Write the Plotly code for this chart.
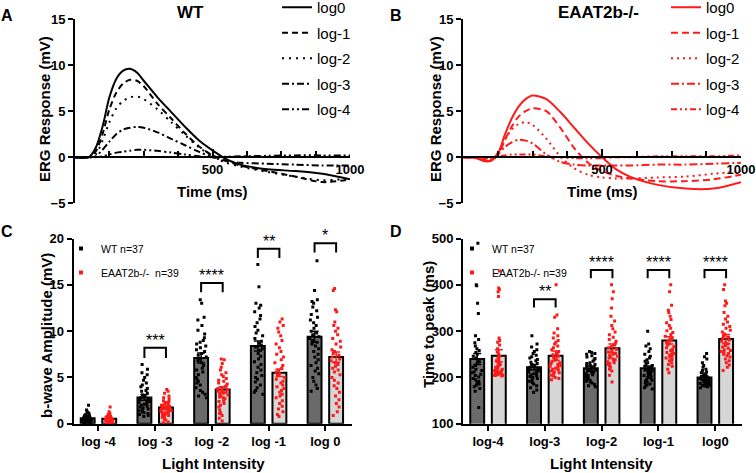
import plotly.graph_objects as go

W, H = 756, 473
FONT = "Liberation Sans, Arial, sans-serif"

# ---------------- Data ----------------
t_ms = [0, 50, 75, 100, 125, 150, 175, 200, 225, 250, 300, 350, 400, 450, 500, 550, 600, 700, 800, 900, 1000]

wt_log0 = [0, 0, 1.0, 3.3, 6.5, 8.5, 9.4, 9.6, 9.2, 8.3, 6.5, 4.9, 3.3, 1.85, 0.75, -0.2, -0.8, -1.3, -1.5, -1.8, -2.4]
wt_log1 = [0, 0, 0.6, 2.5, 5.2, 7.0, 8.0, 8.4, 8.3, 7.7, 5.8, 4.2, 2.6, 1.2, 0.2, -0.4, -0.9, -1.5, -2.1, -2.7, -2.4]
wt_log2 = [0, 0, 0.3, 1.8, 3.8, 5.3, 6.1, 6.5, 6.6, 6.3, 5.2, 3.8, 2.4, 1.1, 0.1, -0.6, -1.0, -1.6, -2.1, -2.5, -2.3]
wt_log3 = [0, 0, 0.1, 0.8, 1.7, 2.5, 3.0, 3.2, 3.3, 3.2, 2.7, 2.0, 1.3, 0.6, 0.0, -0.4, -0.6, -0.7, -0.8, -0.9, -0.9]
wt_log4 = [0, 0, 0, 0.1, 0.3, 0.5, 0.6, 0.7, 0.8, 0.8, 0.7, 0.5, 0.3, 0.1, 0.0, 0.05, 0.1, 0.15, 0.2, 0.2, 0.2]

ko_log0 = [0, -0.1, -0.4, -0.4, 0.3, 2.4, 4.2, 5.5, 6.3, 6.7, 6.3, 4.9, 3.2, 1.5, 0.0, -1.3, -2.1, -3.0, -3.4, -3.4, -2.7]
ko_log1 = [0, -0.1, -0.4, -0.4, 0.2, 1.8, 3.3, 4.4, 5.0, 5.3, 5.0, 3.2, 1.0, -0.6, -1.5, -2.0, -2.3, -2.6, -2.6, -2.4, -1.9]
ko_log2 = [0, -0.1, -0.4, -0.3, 0.5, 1.9, 3.0, 3.6, 3.8, 3.5, 2.0, 0.1, -1.2, -1.9, -2.2, -2.3, -2.3, -2.2, -2.1, -1.8, -1.5]
ko_log3 = [0, -0.1, -0.3, -0.2, 0.3, 1.1, 1.6, 1.9, 1.8, 1.5, 0.3, -0.5, -0.8, -0.9, -0.9, -0.9, -0.9, -0.8, -0.8, -0.7, -0.6]
ko_log4 = [0, 0, -0.1, -0.1, 0.1, 0.2, 0.3, 0.3, 0.3, 0.3, 0.1, 0.0, -0.1, -0.1, -0.1, 0.0, 0.0, 0.1, 0.1, 0.1, 0.2]

trace_names = ["log0", "log-1", "log-2", "log-3", "log-4"]

cats_c = ["log -4", "log -3", "log -2", "log -1", "log 0"]
cats_d = ["log-4", "log-3", "log-2", "log-1", "log0"]

# b-wave amplitude (mV)
c_wt_mean = [0.6, 2.85, 7.1, 8.4, 9.4]
c_wt_sem = [0.08, 0.3, 0.55, 0.55, 0.6]
c_ko_mean = [0.55, 1.75, 3.7, 5.5, 7.2]
c_ko_sem = [0.06, 0.17, 0.3, 0.4, 0.55]

c_wt_m4 = [2.0, 1.5, 1.3, 1.2, 1.1, 1.0, 0.9, 0.9, 0.8, 0.8, 0.8, 0.7, 0.7, 0.7, 0.6, 0.6, 0.6, 0.6, 0.5, 0.5, 0.5, 0.5, 0.4, 0.4, 0.4, 0.4, 0.3, 0.3, 0.3, 0.3, 0.2, 0.2, 0.2, 0.1, 0.1, 0.1, 0.05]
c_wt_m3 = [6.4, 5.9, 5.5, 5.3, 5.0, 4.7, 4.4, 4.2, 4.0, 3.8, 3.6, 3.5, 3.3, 3.1, 3.0, 2.9, 2.8, 2.7, 2.6, 2.5, 2.4, 2.3, 2.2, 2.1, 2.0, 1.9, 1.8, 1.7, 1.6, 1.5, 1.4, 1.3, 1.2, 1.1, 1.0, 0.9, 0.8]
c_wt_m2 = [13.4, 13.0, 11.5, 11.2, 10.6, 10.1, 9.7, 9.3, 9.0, 8.8, 8.6, 8.4, 8.2, 8.0, 7.8, 7.6, 7.4, 7.2, 7.0, 6.8, 6.6, 6.3, 6.0, 5.8, 5.6, 5.3, 5.0, 4.8, 4.6, 4.4, 4.2, 3.9, 3.6, 3.4, 3.2, 3.0, 2.8]
c_wt_m1 = [17.2, 14.8, 13.0, 12.8, 12.5, 12.1, 11.7, 11.3, 10.9, 10.5, 10.1, 9.8, 9.5, 9.2, 8.9, 8.7, 8.5, 8.3, 8.1, 7.9, 7.6, 7.3, 7.0, 6.7, 6.4, 6.1, 5.8, 5.5, 5.2, 5.0, 4.8, 4.5, 4.2, 3.9, 3.6, 3.4, 3.2]
c_wt_0 = [17.6, 14.4, 13.4, 13.2, 13.0, 12.6, 12.2, 11.8, 11.5, 11.2, 10.9, 10.6, 10.3, 10.0, 9.8, 9.6, 9.4, 9.2, 9.0, 8.8, 8.6, 8.4, 8.1, 7.8, 7.5, 7.2, 6.9, 6.6, 6.3, 6.0, 5.7, 5.4, 5.0, 4.6, 4.2, 3.8, 3.5]

c_ko_m4 = [1.8, 1.3, 1.1, 1.0, 0.9, 0.9, 0.8, 0.8, 0.7, 0.7, 0.7, 0.6, 0.6, 0.6, 0.6, 0.5, 0.5, 0.5, 0.5, 0.5, 0.5, 0.4, 0.4, 0.4, 0.4, 0.4, 0.3, 0.3, 0.3, 0.3, 0.3, 0.2, 0.2, 0.2, 0.2, 0.1, 0.1, 0.1, 0.05]
c_ko_m3 = [3.7, 3.5, 3.3, 3.0, 2.8, 2.7, 2.5, 2.4, 2.3, 2.2, 2.1, 2.0, 2.0, 1.9, 1.9, 1.8, 1.8, 1.7, 1.7, 1.6, 1.6, 1.5, 1.5, 1.4, 1.4, 1.3, 1.3, 1.2, 1.2, 1.1, 1.0, 1.0, 0.9, 0.8, 0.7, 0.5, 0.4, 0.2, 0.1]
c_ko_m2 = [7.0, 6.9, 6.5, 6.1, 5.8, 5.5, 5.3, 5.1, 4.9, 4.7, 4.6, 4.4, 4.3, 4.1, 4.0, 3.9, 3.8, 3.7, 3.6, 3.5, 3.4, 3.3, 3.2, 3.1, 3.0, 2.9, 2.8, 2.7, 2.5, 2.4, 2.2, 2.0, 1.8, 1.5, 1.2, 1.1, 0.9, 0.6, 0.3]
c_ko_m1 = [11.3, 11.0, 10.6, 10.3, 9.9, 9.5, 9.0, 8.6, 8.2, 7.8, 7.5, 7.2, 6.9, 6.6, 6.3, 6.0, 5.8, 5.6, 5.4, 5.2, 5.0, 4.8, 4.6, 4.4, 4.2, 4.0, 3.8, 3.6, 3.4, 3.2, 3.0, 2.8, 2.5, 2.2, 1.9, 1.6, 1.3, 1.0, 0.8]
c_ko_0 = [14.6, 14.4, 12.3, 12.1, 11.0, 10.6, 10.3, 10.0, 9.6, 9.2, 8.9, 8.6, 8.3, 8.0, 7.8, 7.6, 7.4, 7.2, 7.0, 6.8, 6.6, 6.4, 6.2, 6.0, 5.8, 5.6, 5.3, 5.0, 4.7, 4.4, 4.1, 3.8, 3.4, 3.0, 2.6, 2.2, 1.8, 1.3, 0.9]

# time to peak (ms)
d_wt_mean = [240, 222, 220, 220, 200]
d_wt_sem = [12, 6, 5, 5, 3]
d_ko_mean = [247, 247, 263, 280, 283]
d_ko_sem = [13, 10, 9, 8, 10]

d_wt_m4 = [490, 400, 398, 360, 338, 290, 282, 275, 268, 262, 258, 254, 250, 246, 242, 238, 234, 230, 226, 222, 218, 215, 212, 210, 207, 204, 201, 198, 195, 192, 189, 186, 183, 180, 176, 170, 135]
d_wt_m3 = [290, 272, 266, 260, 256, 252, 248, 245, 242, 239, 236, 233, 230, 228, 226, 224, 222, 220, 218, 216, 214, 212, 210, 208, 206, 204, 202, 200, 198, 195, 192, 189, 186, 182, 178, 173, 168]
d_wt_m2 = [256, 254, 252, 250, 247, 244, 241, 238, 235, 232, 230, 228, 226, 224, 222, 220, 218, 216, 215, 214, 213, 212, 210, 208, 206, 204, 202, 200, 198, 196, 194, 192, 190, 188, 185, 182, 180]
d_wt_m1 = [300, 272, 268, 262, 256, 250, 246, 242, 238, 235, 232, 229, 226, 224, 222, 220, 218, 216, 214, 212, 210, 208, 206, 204, 202, 200, 198, 196, 194, 192, 190, 188, 186, 184, 181, 178, 175]
d_wt_0 = [252, 245, 240, 232, 226, 222, 218, 215, 212, 210, 208, 206, 204, 202, 201, 200, 199, 198, 197, 196, 195, 194, 193, 192, 191, 190, 189, 188, 187, 186, 185, 184, 183, 182, 181, 180, 178]

d_ko_m4 = [430, 393, 390, 385, 375, 285, 280, 276, 270, 262, 255, 250, 246, 242, 239, 236, 233, 230, 228, 226, 224, 222, 220, 218, 217, 215, 214, 213, 212, 211, 210, 209, 208, 207, 206, 205, 205, 204, 203]
d_ko_m3 = [400, 335, 330, 305, 296, 290, 285, 280, 276, 272, 268, 264, 260, 256, 252, 249, 246, 243, 240, 237, 234, 232, 230, 228, 226, 224, 222, 220, 218, 216, 214, 212, 210, 208, 205, 203, 200, 198, 195]
d_ko_m2 = [400, 385, 370, 350, 332, 322, 312, 305, 298, 292, 287, 282, 278, 274, 270, 267, 264, 261, 258, 255, 252, 250, 248, 246, 244, 242, 240, 238, 236, 234, 232, 230, 228, 225, 222, 218, 214, 205, 190]
d_ko_m1 = [400, 385, 356, 345, 340, 332, 325, 318, 312, 306, 301, 297, 293, 289, 285, 282, 279, 276, 273, 270, 267, 264, 261, 258, 256, 254, 252, 250, 248, 246, 244, 242, 239, 236, 232, 228, 224, 218, 210]
d_ko_0 = [400, 390, 365, 360, 355, 340, 332, 326, 320, 315, 310, 306, 302, 298, 294, 290, 287, 284, 281, 278, 275, 272, 269, 266, 263, 260, 258, 256, 254, 252, 250, 247, 244, 240, 236, 232, 227, 222, 215]

# significance: (category index, leg bottom, bracket top, label)
sig_c = [(1, 7.1, 8.2, "***"), (2, 14.2, 15.2, "****"), (3, 17.9, 18.9, "**"), (4, 18.5, 19.5, "*")]
sig_d = [(1, 351, 369, "**"), (2, 414, 432, "****"), (3, 414, 432, "****"), (4, 414, 432, "****")]

legend_c = ["WT n=37", "EAAT2b-/-\u00a0\u00a0n=39"]
legend_d = ["WT n=37", "EAAT2b-/- n=39"]

# ---------------- Styles ----------------
RED = "#ff1a1a"
WT_BAR = "#6a6a6a"
KO_BAR = "#d6d6d6"
dashes = ["solid", "6px,4px", "2px,5px", "7px,3px,2px,3px", "7px,3px,2px,3px,2px,3px"]
dashes_ko = ["solid", "7px,4px", "2px,4px", "8px,3px,2px,3px", "6px,3px,2px,3px,2px,3px"]
GROUP_OFF = 0.19   # horizontal offset of each group from the category centre
PT_WIDTH = 0.22    # width of the jittered point strip


def px(x):
    return x / W


def py(y):
    return 1 - y / H


fig = go.Figure()

wt_sets = [wt_log0, wt_log1, wt_log2, wt_log3, wt_log4]
ko_sets = [ko_log0, ko_log1, ko_log2, ko_log3, ko_log4]
for i, (nm, ys) in enumerate(zip(trace_names, wt_sets)):
    fig.add_trace(go.Scatter(x=t_ms, y=ys, mode="lines", name=nm, line=dict(color="black", width=2, dash=dashes[i], shape="spline", smoothing=0.8),
                             xaxis="x", yaxis="y", legend="legend", legendgroup="a%d" % i))
for i, (nm, ys) in enumerate(zip(trace_names, ko_sets)):
    fig.add_trace(go.Scatter(x=t_ms, y=ys, mode="lines", name=nm, line=dict(color=RED, width=2, dash=dashes_ko[i], shape="spline", smoothing=0.8),
                             xaxis="x2", yaxis="y2", legend="legend2", legendgroup="b%d" % i))

idx = list(range(5))


def add_bar_panel(xa, ya, wt_mean, wt_sem, ko_mean, ko_sem, wt_pts, ko_pts, leg, leg_names):
    fig.add_trace(go.Bar(x=idx, y=wt_mean, marker=dict(color=WT_BAR, line=dict(color="black", width=2)),
                         error_y=dict(type="data", array=wt_sem, color="black", thickness=1.5, width=4),
                         xaxis=xa, yaxis=ya, showlegend=False))
    fig.add_trace(go.Bar(x=idx, y=ko_mean, marker=dict(color=KO_BAR, line=dict(color="black", width=2)),
                         error_y=dict(type="data", array=ko_sem, color=RED, thickness=1.5, width=4),
                         xaxis=xa, yaxis=ya, showlegend=False))
    for pts, col, off in ((wt_pts, "black", -GROUP_OFF), (ko_pts, RED, GROUP_OFF)):
        xs, ys = [], []
        for i, v in enumerate(pts):
            xs += [i + off] * len(v)
            ys += v
        fig.add_trace(go.Box(x=xs, y=ys, boxpoints="all", jitter=0.9, pointpos=0, width=PT_WIDTH,
                             marker=dict(color=col, size=3, symbol="square", line=dict(width=0)),
                             line=dict(color="rgba(0,0,0,0)", width=0), fillcolor="rgba(0,0,0,0)",
                             xaxis=xa, yaxis=ya, showlegend=False))
    for k, (nm, col) in enumerate(zip(leg_names, ["black", RED])):
        fig.add_trace(go.Scatter(x=[None], y=[None], mode="markers", name=nm,
                                 marker=dict(color=col, size=4, symbol="square"),
                                 xaxis=xa, yaxis=ya, legend=leg, legendgroup=leg + str(k)))


add_bar_panel("x3", "y3", c_wt_mean, c_wt_sem, c_ko_mean, c_ko_sem,
              [c_wt_m4, c_wt_m3, c_wt_m2, c_wt_m1, c_wt_0], [c_ko_m4, c_ko_m3, c_ko_m2, c_ko_m1, c_ko_0], "legend3", legend_c)
add_bar_panel("x4", "y4", d_wt_mean, d_wt_sem, d_ko_mean, d_ko_sem,
              [d_wt_m4, d_wt_m3, d_wt_m2, d_wt_m1, d_wt_0], [d_ko_m4, d_ko_m3, d_ko_m2, d_ko_m1, d_ko_0], "legend4", legend_d)

# significance brackets
for sig, xr, yr in ((sig_c, "x3", "y3"), (sig_d, "x4", "y4")):
    for (i, yl, yt, lab) in sig:
        fig.add_shape(type="path",
                      path=f"M {i-GROUP_OFF},{yl} L {i-GROUP_OFF},{yt} L {i+GROUP_OFF},{yt} L {i+GROUP_OFF},{yl}",
                      xref=xr, yref=yr, line=dict(color="black", width=2))
        fig.add_annotation(x=i, y=yt, xref=xr, yref=yr, text=lab, showarrow=False, yanchor="bottom", yshift=-3,
                           font=dict(size=16, color="black", family=FONT))

tickfont = dict(family=FONT, size=13, color="black", weight="bold")
axis_common = dict(showline=True, linecolor="black", linewidth=2, showgrid=False, zeroline=False,
                   ticks="outside", tickwidth=2, ticklen=5, tickcolor="black", tickfont=tickfont)

yA = [py(203.3), py(19)]
yCD = [py(423.8), py(238.5)]
zero_pos = py(157.3)

fig.update_layout(
    width=W, height=H, margin=dict(l=0, r=0, t=0, b=0, autoexpand=False),
    paper_bgcolor="white", plot_bgcolor="white",
    font=dict(family=FONT, color="black"),
    barmode="group", bargap=0.24, bargroupgap=0.355,
    boxmode="overlay",
    xaxis=dict(**{**axis_common, "ticks": "inside", "ticklen": 7}, domain=[px(75), px(350)], range=[0, 1000],
               tickvals=[500, 1000], anchor="free", position=zero_pos,
               minor=dict(dtick=125, tick0=0, ticks="inside", ticklen=5, tickwidth=2, tickcolor="black")),
    yaxis=dict(**axis_common, domain=yA, range=[-5, 15], dtick=5, anchor="x"),
    xaxis2=dict(**{**axis_common, "ticks": "inside", "ticklen": 7}, domain=[px(463), px(741)], range=[0, 1000],
                tickvals=[500, 1000], anchor="free", position=zero_pos,
                minor=dict(dtick=125, tick0=0, ticks="inside", ticklen=5, tickwidth=2, tickcolor="black")),
    yaxis2=dict(**axis_common, domain=yA, range=[-5, 15], dtick=5, anchor="x2"),
    xaxis3=dict(**axis_common, domain=[px(73.5), px(352)], range=[-0.44, 4.47], tickvals=idx, ticktext=cats_c, anchor="y3"),
    yaxis3=dict(**axis_common, domain=yCD, range=[0, 20], dtick=5, anchor="x3"),
    xaxis4=dict(**axis_common, domain=[px(463), px(742)], range=[-0.44, 4.47], tickvals=idx, ticktext=cats_d, anchor="y4"),
    yaxis4=dict(**axis_common, domain=yCD, range=[100, 500], dtick=100, anchor="x4"),
    legend=dict(x=px(277), y=py(-9), xanchor="left", yanchor="top", font=dict(size=15, family=FONT),
                bgcolor="rgba(0,0,0,0)", tracegroupgap=3, traceorder="grouped"),
    legend2=dict(x=px(666), y=py(-9), xanchor="left", yanchor="top", font=dict(size=15, family=FONT),
                 bgcolor="rgba(0,0,0,0)", tracegroupgap=3, traceorder="grouped"),
    legend3=dict(x=px(61), y=py(234), xanchor="left", yanchor="top", font=dict(size=10.5, family=FONT),
                 bgcolor="rgba(0,0,0,0)", tracegroupgap=5, traceorder="grouped"),
    legend4=dict(x=px(452), y=py(234), xanchor="left", yanchor="top", font=dict(size=10.5, family=FONT),
                 bgcolor="rgba(0,0,0,0)", tracegroupgap=5, traceorder="grouped"),
)

bold = dict(family=FONT, color="black", weight="bold")
annots = [
    ("A", 7, 15, 16, 0), ("B", 396, 15, 16, 0), ("C", 7, 231, 16, 0), ("D", 396, 231, 16, 0),
    ("WT", 190, 13, 17, 0), ("EAAT2b-/-", 598, 13, 17, 0),
    ("Time (ms)", 212, 191, 15, 0), ("Time (ms)", 602, 191, 15, 0),
    ("Light Intensity", 213, 463, 15, 0), ("Light Intensity", 601, 463, 15, 0),
    ("ERG Response (mV)", 45, 109, 15, -90), ("ERG Response (mV)", 436, 109, 15, -90),
    ("b-wave Amplitude (mV)", 46, 336, 15, -90), ("Time to peak (ms)", 428, 325, 15, -90),
]
for text, x, y, size, ang in annots:
    fig.add_annotation(x=px(x), y=py(y), xref="paper", yref="paper", text=text, showarrow=False,
                       xanchor="center", yanchor="middle", textangle=ang, font=dict(size=size, **bold))

fig.write_html("out.html")
